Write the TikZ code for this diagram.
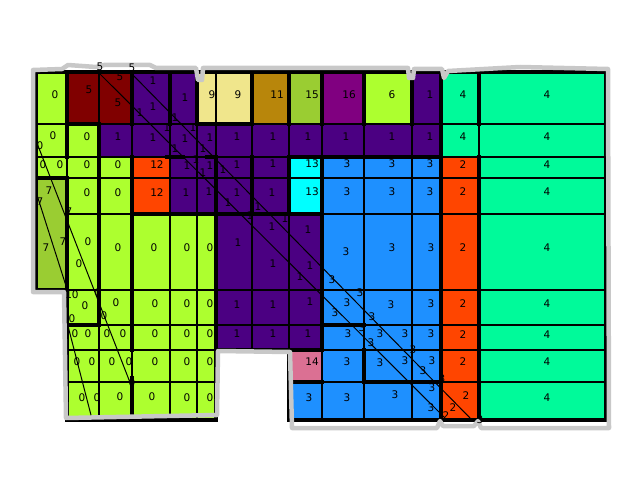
\documentclass[tikz,border=0pt]{standalone}
\usepackage{fontspec}
\setmainfont{DejaVu Sans}
\usepackage{tikz}
\definecolor{Lime}{HTML}{ADFF2F}
\definecolor{Maroon}{HTML}{800000}
\definecolor{Indigo}{HTML}{4B0082}
\definecolor{Khaki}{HTML}{F0E68C}
\definecolor{Gold}{HTML}{B8860B}
\definecolor{Olive}{HTML}{9ACD32}
\definecolor{Plum}{HTML}{800080}
\definecolor{Spring}{HTML}{00FA9A}
\definecolor{Flame}{HTML}{FF4500}
\definecolor{Aqua}{HTML}{00FFFF}
\definecolor{Sky}{HTML}{1E90FF}
\definecolor{Rose}{HTML}{DB7093}
\definecolor{Halo}{HTML}{C8C8C8}
\begin{document}
\begin{tikzpicture}[x=1pt,y=-1pt,
  cellline/.style={line width=1.2pt,color=black},
  wall/.style={line width=4.5pt,color=black,line cap=rect},
  ray/.style={line width=1pt,color=black},
  halo/.style={line width=4.5pt,color=Halo,line join=round},
  lbl/.style={font=\fontsize{10.5}{12}\selectfont,inner sep=0pt}]
\useasboundingbox (0,0) rectangle (640,500);
% room fills
\fill[Lime] (36,72) rectangle (67,178);
\fill[Lime] (67,124) rectangle (99,178);
\fill[Lime] (99,157) rectangle (132,178);
\fill[Lime] (67,178) rectangle (132,214);
\fill[Lime] (67,214) rectangle (216,420);
\fill[Lime] (364,72) rectangle (412,124);
\fill[Maroon] (67,72) rectangle (132,124);
\fill[Indigo] (132,72) rectangle (197,124);
\fill[Indigo] (412,72) rectangle (441,124);
\fill[Indigo] (99,124) rectangle (441,157);
\fill[Indigo] (170,157) rectangle (289,214);
\fill[Indigo] (216,214) rectangle (322,350);
\fill[Khaki] (197,72) rectangle (252,124);
\fill[Gold] (252,72) rectangle (289,124);
\fill[Olive] (289,72) rectangle (322,124);
\fill[Olive] (36,178) rectangle (67,290);
\fill[Plum] (322,72) rectangle (364,124);
\fill[Spring] (441,72) rectangle (606,157);
\fill[Spring] (479,157) rectangle (606,420);
\fill[Flame] (132,157) rectangle (170,214);
\fill[Flame] (441,157) rectangle (479,420);
\fill[Aqua] (289,157) rectangle (322,214);
\fill[Sky] (322,157) rectangle (441,420);
\fill[Sky] (289,382) rectangle (322,420);
\fill[Rose] (289,350) rectangle (322,382);
% cell lines
\foreach \yy/\xa/\xb in {124/36/606,157/36/606,178/36/606,214/67/606,290/36/606,
  325/67/606,350/67/606,382/67/216,382/289/606}
  \draw[cellline] (\xa,\yy) -- (\xb,\yy);
\foreach \xx/\ya/\yb in {67/72/420,99/72/420,132/72/420,170/72/420,197/72/420,
  216/72/420,252/72/350,289/72/420,322/72/420,364/72/420,412/72/420,441/72/420,479/72/420}
  \draw[cellline] (\xx,\ya) -- (\xx,\yb);
% walls
\draw[wall] (36,72) -- (606,72) -- (606,420) -- (289,420) -- (289,350) -- (216,350)
  -- (216,420) -- (67,420) -- (67,290) -- (36,290) -- cycle;
\foreach \xa/\ya/\xb/\yb in {67/72/67/157,67/124/99/124,99/124/99/325,67/325/99/325,
  132/72/132/124,132/157/132/350,132/378/132/420,170/72/170/124,167/157/183/157,
  207/157/216/157,197/72/197/124,197/124/252/124,216/157/216/350,252/72/252/124,
  252/157/252/214,289/72/289/124,289/157/289/214,132/214/322/214,289/157/441/157,
  322/72/322/124,322/157/322/350,364/72/364/124,412/72/412/124,441/72/441/420,
  479/72/479/124,479/157/479/420,322/325/364/325,364/350/364/382,364/382/441/382,
  289/382/322/382,36/178/67/178,67/178/67/290,216/350/322/350}
  \draw[wall] (\xa,\ya) -- (\xb,\yb);
% rays
\draw[ray] (98,72) -- (445,418);
\draw[ray] (130,72) -- (472,420);
\draw[ray] (35,138) -- (131,385);
\draw[ray] (37,195) -- (67,289);
\draw[ray] (68,326) -- (92,419);
% outline halo
\draw[halo] (33,70) -- (62,69) -- (68,65) -- (96,67) -- (104,65) -- (150,65)
  -- (156,68) -- (196,68) -- (198,80) -- (202,80) -- (203,68) -- (408,68)
  -- (409,78) -- (413,78) -- (414,69) -- (442,69) -- (444,78) -- (448,71)
  -- (520,67) -- (608,69) -- (609,428) -- (481,428) -- (478,421) -- (474,426)
  -- (443,426) -- (440,421) -- (437,428) -- (292,428) -- (290,352) -- (218,351)
  -- (217,415) -- (66,418) -- (64,292) -- (33,292) -- cycle;
% labels
\foreach \px/\py/\t [count=\k] in {
  55/95/0,89/90/5,120/77/5,118/103/5,100/67/5,132/68/5,
  153/81/1,153/107/1,140/113/1,185/98/1,175/118/1,167/128/1,193/128/1,
  212/95/9,238/95/9,277/95/11,312/95/15,349/95/16,392/95/6,430/95/1,463/95/4,547/95/4,
  53/136/0,87/137/0,40/146/0,118/137/1,153/138/1,185/139/1,210/138/1,237/137/1,
  175/149/1,203/149/1,273/137/1,308/137/1,346/137/1,392/137/1,430/137/1,463/137/4,547/137/4,
  43/165/0,60/165/0,87/165/0,118/165/0,157/165/12,196/160/1,187/166/1,210/166/1,
  237/165/1,203/173/1,223/170/1,273/164/1,312/164/13,347/164/3,392/164/3,430/164/3,
  463/165/2,547/165/4,
  49/191/7,40/202/7,69/212/7,87/193/0,118/193/0,157/193/12,186/193/1,209/192/1,
  237/193/1,228/203/1,258/207/1,272/193/1,250/216/1,285/219/1,312/192/13,347/192/3,
  392/192/3,430/192/3,463/192/2,547/192/4,
  46/248/7,63/242/7,88/242/0,79/264/0,118/248/0,154/248/0,187/248/0,210/248/0,
  238/243/1,272/227/1,308/230/1,273/264/1,310/266/1,300/277/1,346/252/3,392/248/3,
  431/248/3,332/280/3,463/248/2,547/248/4,
  72/295/10,85/306/0,98/293/0,116/303/0,104/316/0,72/319/0,155/304/0,187/304/0,
  210/304/0,237/305/1,273/305/1,310/302/1,347/303/3,360/293/3,335/313/3,391/305/3,
  372/317/3,431/304/3,463/304/2,547/304/4,
  75/334/0,88/334/0,107/334/0,123/334/0,155/334/0,187/334/0,210/334/0,237/334/1,
  273/334/1,308/334/1,348/334/3,362/328/3,380/334/3,405/334/3,431/334/3,371/343/3,
  463/335/2,547/335/4,
  77/362/0,92/362/0,112/362/0,129/362/0,155/362/0,187/362/0,210/362/0,312/362/14,
  347/362/3,380/363/3,405/361/3,432/361/3,413/350/3,423/371/3,463/362/2,547/362/4,
  82/398/0,97/398/0,120/397/0,152/397/0,187/398/0,210/398/0,132/383/0,309/398/3,
  347/398/3,395/395/3,432/388/3,431/408/3,442/379/3,446/416/2,453/408/2,466/396/2,
  480/420/3,547/398/4}
  \node[lbl] (l\k) at (\px,\py) {\t};
\end{tikzpicture}
\end{document}
